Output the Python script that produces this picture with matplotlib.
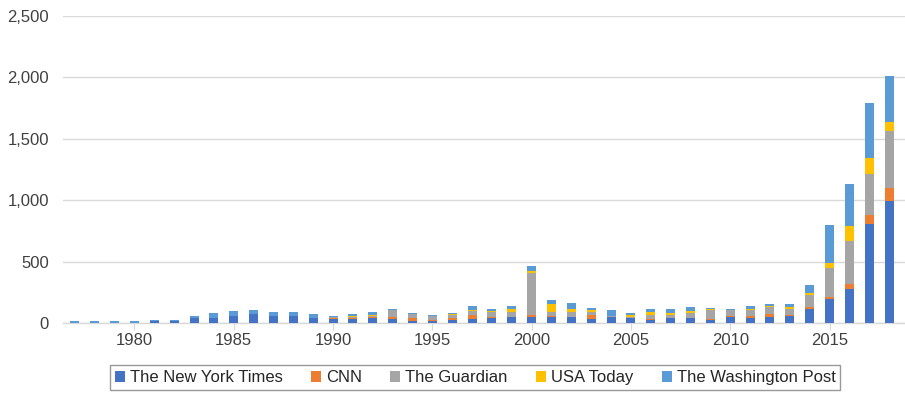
import matplotlib
matplotlib.use("Agg")
import matplotlib.pyplot as plt
from matplotlib.patches import Patch
import numpy as np

years = list(range(1977, 2019))
nyt = [3, 3, 3, 3, 20, 20, 40, 40, 60, 70, 53, 56, 44,
       35, 36, 40, 30, 18, 18, 24, 30, 43, 49, 45, 46, 49,
       35, 48, 38, 27, 38, 40, 24, 52, 38, 48, 58, 114, 195, 277, 809, 997]
cnn = [0, 0, 0, 0, 0, 0, 0, 0, 0, 0, 0, 0, 0,
       3, 3, 8, 22, 22, 10, 16, 32, 3, 2, 18, 10, 2,
       33, 4, 3, 2, 3, 2, 10, 3, 22, 22, 11, 16, 14, 38, 74, 102]
guardian = [0, 0, 0, 0, 0, 0, 0, 0, 0, 0, 0, 0, 0,
            8, 10, 10, 54, 30, 25, 25, 32, 40, 42, 345, 35, 40,
            25, 4, 5, 40, 28, 40, 70, 48, 43, 57, 48, 96, 242, 353, 330, 464]
usa = [0, 0, 0, 0, 0, 0, 0, 0, 0, 0, 0, 0, 0,
       5, 6, 10, 3, 2, 2, 7, 12, 12, 22, 12, 60, 27,
       12, 0, 18, 17, 16, 17, 10, 2, 13, 13, 14, 18, 38, 119, 131, 74]
wapo = [12, 12, 12, 12, 5, 5, 20, 42, 35, 37, 33, 30, 27,
        9, 16, 18, 8, 10, 13, 10, 33, 18, 24, 47, 35, 48,
        20, 48, 19, 30, 30, 30, 10, 10, 24, 15, 22, 69, 307, 348, 451, 374]

series = [("The New York Times", nyt, "#4472C4"),
          ("CNN", cnn, "#ED7D31"),
          ("The Guardian", guardian, "#A5A5A5"),
          ("USA Today", usa, "#FFC000"),
          ("The Washington Post", wapo, "#5B9BD5")]

plt.rcParams['font.family'] = ['Liberation Sans', 'DejaVu Sans']
text_color = '#404040'

fig = plt.figure(figsize=(9.05, 3.93), dpi=100)
ax = fig.add_axes([63/905, 1 - 323/393, (905 - 63)/905, (323 - 16)/393])

x = np.array(years)
bottom = np.zeros(len(years))
for name, vals, col in series:
    v = np.array(vals, dtype=float)
    ax.bar(x, v, bottom=bottom, width=0.45, color=col, label=name, zorder=3)
    bottom += v

ax.set_ylim(0, 2500)
ax.set_xlim(1976.4, 2018.8)
ax.set_yticks(np.arange(0, 2501, 500))
ax.set_yticklabels([f"{v:,}" for v in range(0, 2501, 500)])
ax.set_xticks(range(1980, 2016, 5))
ax.grid(axis='y', color='#D9D9D9', linewidth=1, zorder=0)
for s in ['top', 'right', 'left']:
    ax.spines[s].set_visible(False)
ax.spines['bottom'].set_color('#D9D9D9')
ax.spines['bottom'].set_linewidth(1)
ax.tick_params(axis='y', length=0, pad=10, labelsize=12, labelcolor=text_color)
ax.tick_params(axis='x', length=5, color='#D9D9D9', pad=2, labelsize=12, labelcolor=text_color)

handles = [Patch(facecolor=c, edgecolor='none') for _, _, c in series]
labels = [n for n, _, _ in series]
leg = fig.legend(handles, labels, loc='lower center', bbox_to_anchor=(475/905, -0.014),
                 ncol=5, fontsize=12, frameon=True, fancybox=False,
                 handlelength=0.6, handleheight=0.6, handletextpad=0.3,
                 columnspacing=1.7, borderpad=0.3, labelcolor='#262626')
leg.get_frame().set_edgecolor('#808080')
leg.get_frame().set_linewidth(1)

fig.savefig("out.png", dpi=100)
